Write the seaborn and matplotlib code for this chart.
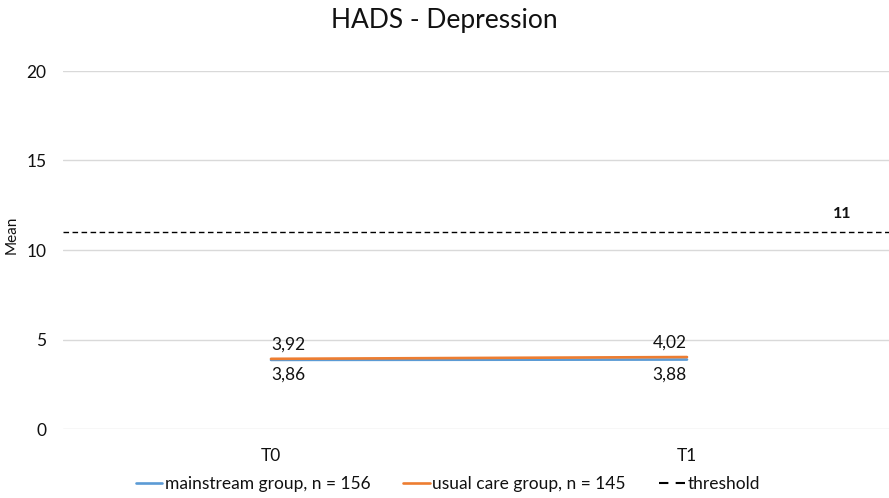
import matplotlib
matplotlib.use("Agg")
import matplotlib.pyplot as plt
from matplotlib.lines import Line2D
import seaborn as sns
import pandas as pd

# ---- data ----
timepoints = ["T0", "T1"]
mainstream = [3.86, 3.88]
usual_care = [3.92, 4.02]
threshold = 11
series_names = ["mainstream group, n = 156", "usual care group, n = 145"]
y_ticks = [0, 5, 10, 15, 20]
title = "HADS - Depression"
y_label = "Mean"

colors = {series_names[0]: "#5B9BD5", series_names[1]: "#ED7D31"}

df = pd.DataFrame({
    "time": timepoints * 2,
    "x": list(range(len(timepoints))) * 2,
    "value": mainstream + usual_care,
    "group": [series_names[0]] * 2 + [series_names[1]] * 2,
})

sns.set_theme(style="white")
plt.rcParams["font.family"] = ["Lato", "DejaVu Sans"]

fig = plt.figure(figsize=(8.89, 4.98), dpi=100)
ax = fig.add_axes([63 / 889, 1 - 429 / 498, (895 - 63) / 889, (429 - 71) / 498])

sns.lineplot(data=df, x="x", y="value", hue="group", palette=colors,
             linewidth=1.9, ax=ax, legend=False, sort=False)
ax.axhline(threshold, color="black", linewidth=1.0, linestyle=(0, (4, 2.5)))

ax.set_xlim(-0.5, len(timepoints) - 0.5)
ax.set_ylim(y_ticks[0], y_ticks[-1])
ax.set_yticks(y_ticks)
ax.set_xticks(range(len(timepoints)))
ax.set_xticklabels(timepoints)
ax.grid(axis="y", color="#D9D9D9", linewidth=1)
ax.grid(axis="x", visible=False)
for s in ax.spines.values():
    s.set_visible(False)
ax.tick_params(axis="both", length=0, labelsize=12.5, colors="#111111")
ax.tick_params(axis="y", pad=12)
ax.tick_params(axis="x", pad=14)
ax.set_xlabel("")
ax.set_ylabel(y_label, fontsize=11, color="#111111", va="center")
ax.yaxis.set_label_coords(-51 / 832, (429 - 235) / 358)

fmt = lambda v: f"{v:.2f}".replace(".", ",")
# labels: T0 left-aligned, T1 right-aligned
for i, ha in enumerate(["left", "right"]):
    ax.annotate(fmt(usual_care[i]), (i, usual_care[i]), xytext=(0, 14),
                textcoords="offset pixels", ha=ha, va="center", fontsize=12.5,
                color="#111111")
    ax.annotate(fmt(mainstream[i]), (i, mainstream[i]), xytext=(0, -15),
                textcoords="offset pixels", ha=ha, va="center", fontsize=12.5,
                color="#111111")
ax.annotate(str(threshold), (1.373, threshold), xytext=(0, 18),
            textcoords="offset pixels", ha="center", va="center",
            fontsize=11.5, fontweight="bold", color="#111111")

fig.suptitle(title, y=1 - 20 / 498, fontsize=19, va="center", color="#111111")

handles = [Line2D([], [], color=colors[series_names[0]], lw=1.9),
           Line2D([], [], color=colors[series_names[1]], lw=1.9),
           Line2D([], [], color="black", lw=1.5, linestyle=(0, (4.5, 3.5)))]
fig.legend(handles, series_names + ["threshold"], loc="center",
           bbox_to_anchor=(448 / 889, 1 - 484 / 498), ncol=3, frameon=False,
           fontsize=12.5, handlelength=1.5, handletextpad=0.15, columnspacing=1.9,
           labelcolor="#111111")

fig.savefig("out.png", dpi=100)
